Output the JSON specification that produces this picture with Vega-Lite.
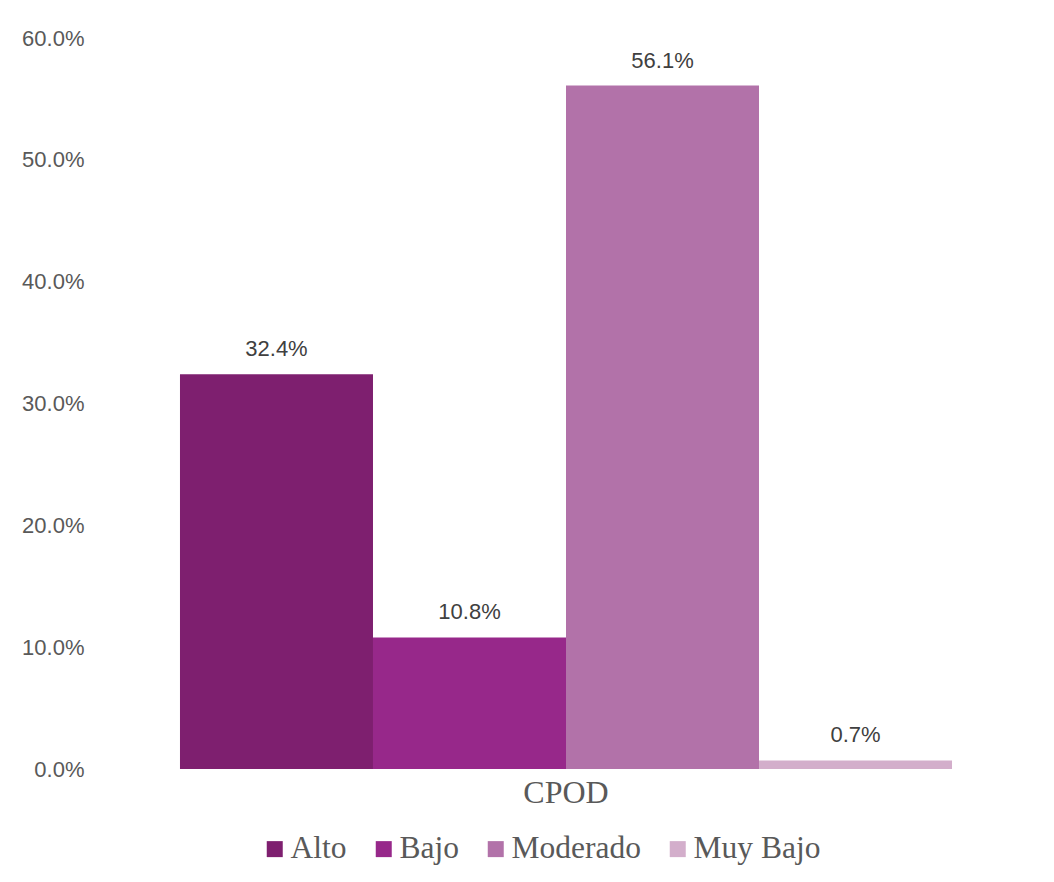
{
  "$schema": "https://vega.github.io/schema/vega-lite/v6.json",
  "autosize": "none",
  "width": 932,
  "height": 731,
  "padding": {"left": 100, "top": 38, "right": 22, "bottom": 113},
  "background": "white",
  "config": {"view": {"stroke": null}, "font": "Liberation Sans"},
  "data": {
    "values": [
      {"indicador": "CPOD", "nivel": "Alto", "valor": 0.324},
      {"indicador": "CPOD", "nivel": "Bajo", "valor": 0.108},
      {"indicador": "CPOD", "nivel": "Moderado", "valor": 0.561},
      {"indicador": "CPOD", "nivel": "Muy Bajo", "valor": 0.007}
    ]
  },
  "encoding": {
    "x": {
      "field": "indicador",
      "type": "nominal",
      "scale": {"paddingInner": 0, "paddingOuter": 0.1036},
      "axis": {
        "title": null,
        "labelAngle": 0,
        "domain": false,
        "ticks": false,
        "labelFont": "Liberation Serif",
        "labelFontSize": 32,
        "labelColor": "#595959",
        "labelPadding": 33,
        "labelBaseline": "alphabetic"
      }
    },
    "xOffset": {
      "field": "nivel",
      "type": "nominal",
      "sort": ["Alto", "Bajo", "Moderado", "Muy Bajo"],
      "scale": {"paddingInner": 0, "paddingOuter": 0}
    },
    "y": {
      "field": "valor",
      "type": "quantitative",
      "scale": {"domain": [0, 0.6]},
      "axis": {
        "title": null,
        "values": [0, 0.1, 0.2, 0.3, 0.4, 0.5, 0.6],
        "format": ".1%",
        "grid": false,
        "domain": false,
        "ticks": false,
        "labelPadding": 16,
        "labelFont": "Liberation Sans",
        "labelFontSize": 22,
        "labelColor": "#595959"
      }
    }
  },
  "layer": [
    {
      "mark": {"type": "bar"},
      "encoding": {
        "color": {
          "field": "nivel",
          "type": "nominal",
          "sort": ["Alto", "Bajo", "Moderado", "Muy Bajo"],
          "scale": {
            "domain": ["Alto", "Bajo", "Moderado", "Muy Bajo"],
            "range": ["#7E1F6F", "#97288A", "#B272A9", "#D3AECB"]
          },
          "legend": {
            "title": null,
            "orient": "none",
            "direction": "horizontal",
            "legendX": 159,
            "legendY": 795,
            "symbolType": "square",
            "symbolSize": 256,
            "symbolStrokeWidth": 0,
            "symbolOpacity": 1,
            "labelFont": "Liberation Serif",
            "labelFontSize": 31.5,
            "labelColor": "#595959",
            "labelOffset": 0,
            "columnPadding": 21,
            "labelLimit": 400
          }
        }
      }
    },
    {
      "mark": {"type": "text", "baseline": "alphabetic", "dy": -18, "fontSize": 22, "color": "#404040", "font": "Liberation Sans"},
      "encoding": {"text": {"field": "valor", "type": "quantitative", "format": ".1%"}}
    }
  ]
}
